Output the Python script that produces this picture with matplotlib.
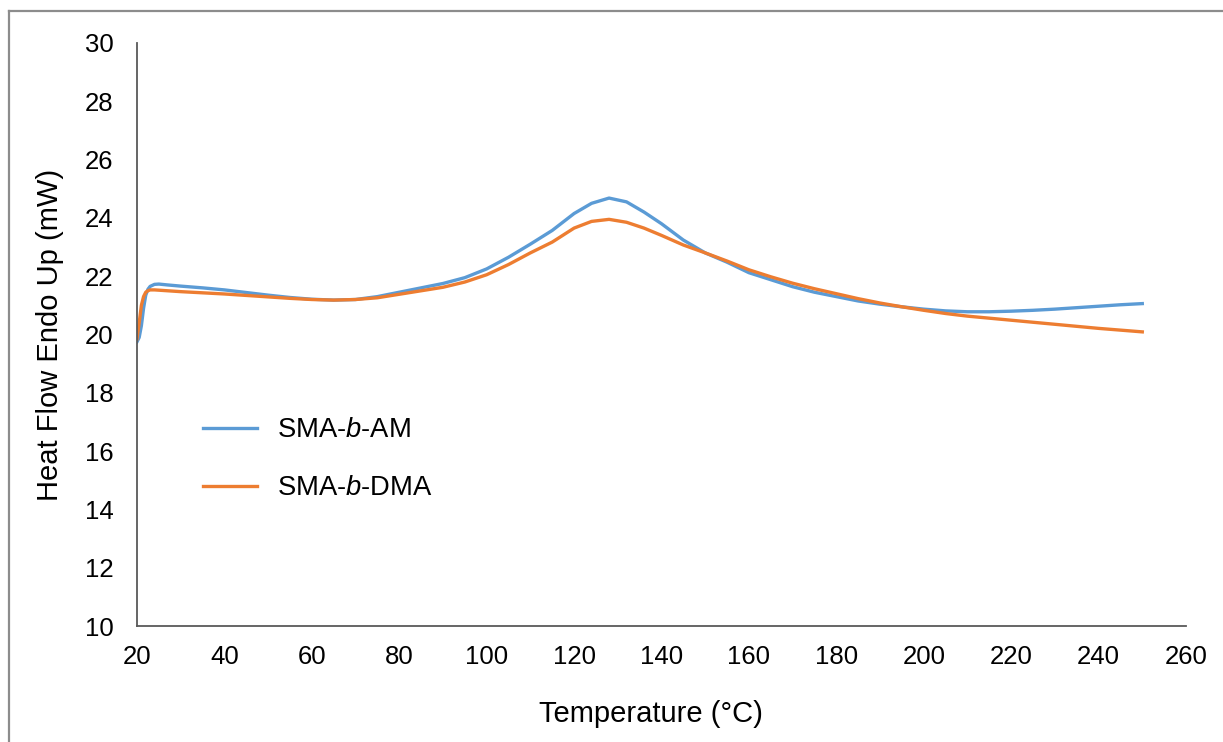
import matplotlib
matplotlib.use("Agg")
import matplotlib.pyplot as plt
from matplotlib.lines import Line2D

plt.rcParams['font.family'] = ['Liberation Sans', 'DejaVu Sans']
plt.rcParams['mathtext.fontset'] = 'custom'
plt.rcParams['mathtext.rm'] = 'Liberation Sans'
plt.rcParams['mathtext.it'] = 'Liberation Sans:italic'

temperature = [20, 20.5, 21, 21.5, 22, 22.5, 23, 24, 25, 27, 30, 35, 40, 45, 50, 55, 60, 65, 70, 75,
               80, 85, 90, 95, 100, 105, 110, 115, 120, 124, 128, 132, 136, 140, 145, 150, 155, 160,
               165, 170, 175, 180, 185, 190, 195, 200, 205, 210, 215, 220, 225, 230, 235, 240, 245, 250]

sma_b_am = [19.75, 19.9, 20.3, 20.9, 21.35, 21.55, 21.65, 21.72, 21.73, 21.70, 21.66, 21.6, 21.53, 21.44,
            21.35, 21.27, 21.21, 21.18, 21.2, 21.3, 21.45, 21.6, 21.75, 21.95, 22.25, 22.65, 23.1, 23.57,
            24.15, 24.5, 24.68, 24.55, 24.2, 23.8, 23.24, 22.8, 22.48, 22.12, 21.88, 21.64, 21.45, 21.3,
            21.15, 21.04, 20.95, 20.87, 20.81, 20.78, 20.78, 20.8, 20.83, 20.87, 20.92, 20.97, 21.02, 21.06]

sma_b_dma = [19.85, 20.4, 21.0, 21.3, 21.45, 21.5, 21.53, 21.53, 21.52, 21.5, 21.47, 21.43, 21.39, 21.34,
             21.29, 21.24, 21.2, 21.18, 21.2, 21.26, 21.38, 21.5, 21.62, 21.8, 22.05, 22.4, 22.8, 23.17,
             23.65, 23.88, 23.95, 23.85, 23.65, 23.4, 23.07, 22.8, 22.52, 22.22, 21.98, 21.76, 21.57, 21.4,
             21.23, 21.08, 20.95, 20.83, 20.72, 20.63, 20.56, 20.49, 20.42, 20.35, 20.28, 20.21, 20.15, 20.09]

x_ticks = list(range(20, 261, 20))
y_ticks = list(range(10, 31, 2))

fig = plt.figure(figsize=(12.23, 7.42), dpi=100)
ax = fig.add_axes([137/1223, 1 - 626/742, (1186-137)/1223, (626-43)/742])

ax.plot(temperature, sma_b_am, color='#5B9BD5', lw=2.4, label='SMA-$\\it{b}$-AM',
        solid_joinstyle='round')
ax.plot(temperature, sma_b_dma, color='#ED7D31', lw=2.4, label='SMA-$\\it{b}$-DMA',
        solid_joinstyle='round')

ax.set_xlim(20, 260)
ax.set_ylim(10, 30)
ax.set_xticks(x_ticks)
ax.set_yticks(y_ticks)
ax.tick_params(length=0, labelsize=18.5, colors='black')
ax.tick_params(axis='x', pad=14)
ax.tick_params(axis='y', pad=17)
for s in ['top', 'right']:
    ax.spines[s].set_visible(False)
for s in ['left', 'bottom']:
    ax.spines[s].set_color('#595959')
    ax.spines[s].set_linewidth(1.3)

ax.set_xlabel('Temperature (°C)', fontsize=21, labelpad=22)
ax.xaxis.label.set_x((651 - 137) / 1049)
ax.set_ylabel('Heat Flow Endo Up (mW)', fontsize=21, labelpad=15)

leg = ax.legend(loc='upper left', bbox_to_anchor=(0.039, 0.40), frameon=False, fontsize=19.7,
                handlelength=2.0, handletextpad=0.73, labelspacing=1.17)

# outer frame
fx = 9/1223
fy = 1 - 11/742
fig.add_artist(Line2D([fx, 1.0], [fy, fy], transform=fig.transFigure, color='#8c8c8c', lw=1.6))
fig.add_artist(Line2D([fx, fx], [0, fy], transform=fig.transFigure, color='#8c8c8c', lw=1.6))

fig.savefig('out.png', dpi=100, facecolor='white')
